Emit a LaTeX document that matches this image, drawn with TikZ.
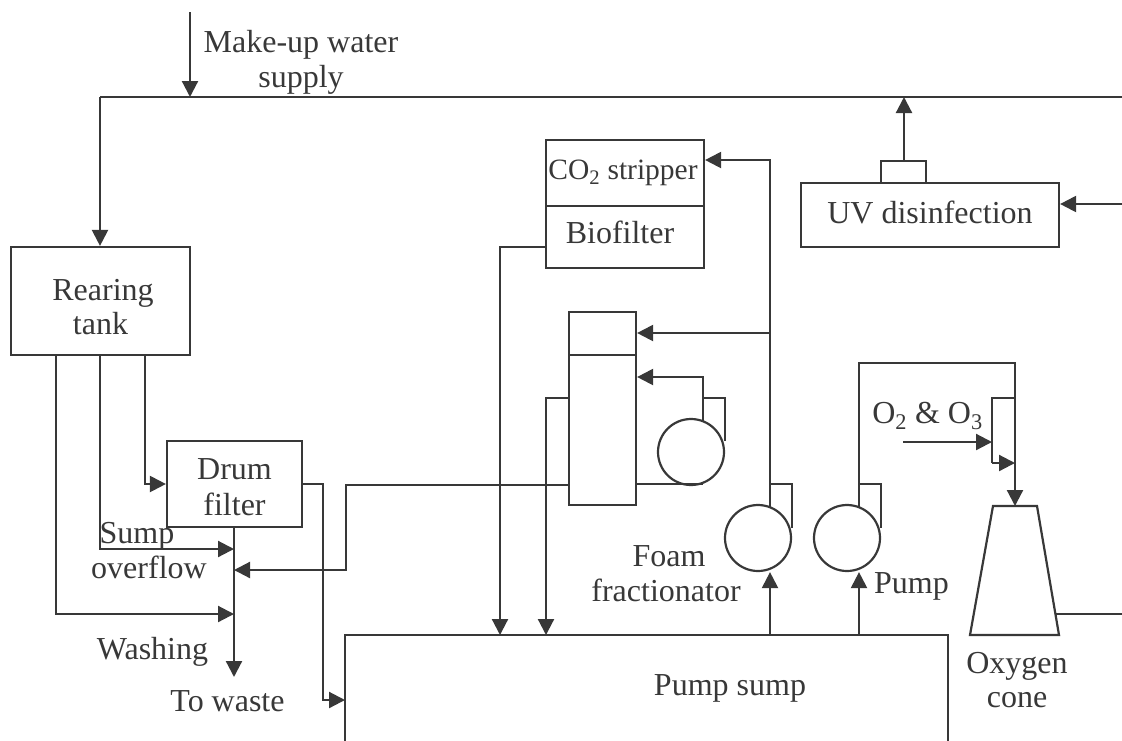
\documentclass[tikz,border=0pt]{standalone}
\usepackage{fontspec}
\setmainfont{Liberation Serif}
\usetikzlibrary{arrows.meta,calc}
\definecolor{ink}{HTML}{383838}
\tikzset{
  pipe/.style={draw=ink,line width=2.2pt,line join=miter},
  flow/.style={pipe,-{Triangle[length=16pt,width=16pt]}},
  unitbox/.style={draw=ink,line width=2.2pt,rectangle,inner sep=0pt},
  pumpc/.style={draw=ink,line width=2.2pt,circle,inner sep=0pt,minimum size=66pt},
  lab/.style={text=ink,inner sep=0pt,anchor=base,align=center,font=\lbl},
}
\newcommand{\lbl}{\fontsize{32}{35}\selectfont}
\begin{document}
\begin{tikzpicture}[x=1pt,y=-1pt]
\useasboundingbox (0,0) rectangle (1122,740);
% units
\node[unitbox,minimum width=179pt,minimum height=108pt] (rear) at (100.5,301) {};
\node[unitbox,minimum width=135pt,minimum height=86pt] (drum) at (234.5,484) {};
\node[unitbox,minimum width=158pt,minimum height=66pt] (co2) at (625,173) {};
\node[unitbox,minimum width=158pt,minimum height=62pt] (bio) at (625,237) {};
\node[unitbox,minimum width=258pt,minimum height=64pt] (uv) at (930,215) {};
\node[unitbox,minimum width=45pt,minimum height=22pt] (uvtop) at (903.5,172) {};
\node[unitbox,minimum width=67pt,minimum height=43pt] (ftop) at (602.5,333.5) {};
\node[unitbox,minimum width=67pt,minimum height=150pt] (fbody) at (602.5,430) {};
\node[pumpc] (p1) at (691,452) {};
\node[pumpc] (p2) at (758,538) {};
\node[pumpc] (p3) at (847,538) {};
% sump, open at the bottom edge
\draw[pipe] (345,742) -- (345,635) coordinate (sumpTL) -- (948,635) -- (948,742);
% oxygen cone
\draw[pipe] (993,506) coordinate (coneTL) -- (1037,506) -- (1059,635) -- (970,635) -- cycle;
\coordinate (coneTop) at (1015,506);
\coordinate (coneR) at (1056,614);
% labels
\node[lab] (trear) at (103,300) {Rearing};
\node[lab] (ttank) at (100.5,334) {tank};
\node[lab] (tdrum) at (234.5,479) {Drum};
\node[lab] (tfilter) at (234.5,515) {filter};
\node[lab] (tmake) at (301,52) {Make-up water};
\node[lab] (tsupply) at (301,87) {supply};
\node[lab,font=\fontsize{29.5}{35}\selectfont] (tco2) at (623,179) {CO\textsubscript{2} stripper};
\node[lab] (tbio) at (620,243) {Biofilter};
\node[lab] (tuv) at (930,223) {UV disinfection};
\node[lab] (tsump) at (137,543) {Sump};
\node[lab] (tover) at (149,578) {overflow};
\node[lab] (twash) at (152.5,659) {Washing};
\node[lab] (twaste) at (227.5,711) {To waste};
\node[lab] (tfoam) at (669,566) {Foam};
\node[lab] (tfrac) at (666,601) {fractionator};
\node[lab] (tpump) at (911.5,593) {Pump};
\node[lab] (toz) at (927.5,423) {O\textsubscript{2} \& O\textsubscript{3}};
\node[lab] (toxy) at (1017,673) {Oxygen};
\node[lab] (tcone) at (1017,707) {cone};
\node[lab] (tss) at (730,695) {Pump sump};
% free ends and junctions
\coordinate (in) at (190,12);
\coordinate (mainJ) at (190,97);
\coordinate (mainL) at (100,97);
\coordinate (mainR) at (1122,97);
\coordinate (uvUp) at (904,97);
\coordinate (uvIn) at (1122,204);
\coordinate (coneOut) at (1122,614);
% main return
\draw[pipe] (mainR) -- (mainL);
\draw[flow] (mainL) -- (rear.north -| mainL);
\draw[flow] (in) -- (mainJ);
\draw[flow] (uvtop.north -| uvUp) -- (uvUp);
\draw[flow] (uvIn) -- (uv.east |- uvIn);
\draw[pipe] (coneOut) -- (coneR);
% rearing tank outlets
\coordinate (r1) at (56,355);
\coordinate (r2) at (100,355);
\coordinate (r3) at (145,355);
\coordinate (w) at (234,527);
\draw[flow] (r3) |- (drum.west |- 0,484);
\draw[flow] (r2) |- (234,549);
\draw[flow] (r1) |- (234,614);
\draw[flow] (w) -- (234,677);
% drum filter to sump
\draw[flow] (drum.east |- 0,484) -- (323,484) -- (323,700) -- (sumpTL |- 0,700);
% foam fractionator
\draw[flow] (fbody.west |- 0,485) -- (346,485) -- (346,570) -- (234,570);
\draw[flow] (fbody.west |- 0,398) -- (546,398) -- (546,635);
\draw[flow] (bio.west |- 0,247) -- (500,247) -- (500,635);
\draw[pipe] (fbody.east |- 0,484) -- (703,484);
\draw[flow] (703,421) -- (703,377) -- (ftop.east |- 0,377);
\draw[pipe] (703,398) -- (725,398) -- (725,441);
% main pump 2
\draw[flow] (770,507) -- (770,160) -- (co2.east |- 0,160);
\draw[flow] (770,333) -- (ftop.east |- 0,333);
\draw[pipe] (770,484) -- (792,484) -- (792,528);
\draw[flow] (770,635) -- (p2.south -| 770,0);
% pump 3
\draw[flow] (859,635) -- (p3.south -| 859,0);
\draw[flow] (859,507) -- (859,363) -- (1015,363) -- (coneTop);
\draw[pipe] (859,484) -- (881,484) -- (881,528);
% oxygen injection
\draw[flow] (903,442) -- (992,442);
\draw[pipe] (1015,398) -- (992,398) -- (992,463);
\draw[flow] (992,463) -- (1015,463);
\end{tikzpicture}
\end{document}
